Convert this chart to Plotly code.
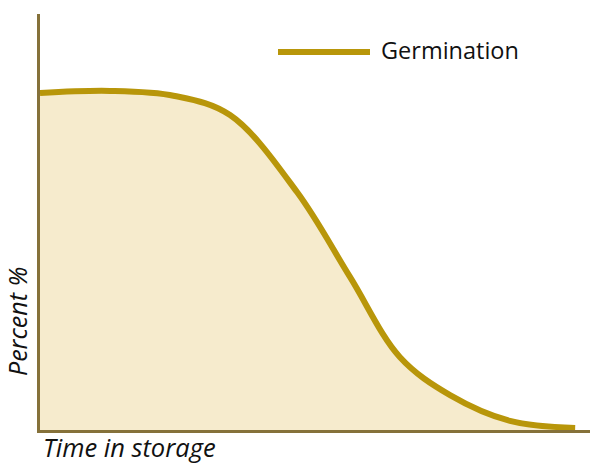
import plotly.graph_objects as go

time_x = [0, 12.73, 24.5, 34.55, 46.73, 56.36, 65.45, 74.55, 85.45, 97.3]
germination = [81.0, 81.5, 80.3, 75.7, 57.2, 36.8, 17.5, 8.4, 2.2, 0.5]
series_name = "Germination"
x_title = "Time in storage"
y_title = "Percent %"

line_color = "#B8960A"
fill_color = "#F6EBCD"
axis_color = "#85713A"
font_family = "Open Sans"

fig = go.Figure()
fig.add_trace(go.Scatter(
    x=time_x, y=germination, mode="lines",
    line=dict(color=line_color, width=6, shape="spline", smoothing=1.0),
    fill="tozeroy", fillcolor=fill_color, name=series_name, showlegend=False,
))

fig.update_layout(
    width=590, height=465,
    margin=dict(l=40, r=0, t=14, b=35),
    paper_bgcolor="white", plot_bgcolor="white",
    font=dict(family=font_family, color="#111111"),
    xaxis=dict(range=[0, 100], showline=True, linecolor=axis_color, linewidth=2.5,
               showgrid=False, zeroline=False, showticklabels=False, ticks=""),
    yaxis=dict(range=[0, 100], showline=True, linecolor=axis_color, linewidth=2.5,
               showgrid=False, zeroline=False, showticklabels=False, ticks=""),
    shapes=[dict(type="line", xref="paper", yref="paper",
                 x0=(278 - 40) / 550, x1=(370 - 40) / 550,
                 y0=(430 - 52) / 416, y1=(430 - 52) / 416,
                 line=dict(color=line_color, width=6))],
    annotations=[
        dict(text=series_name, xref="paper", yref="paper",
             x=(379 - 40) / 550, y=(430 - 50) / 416, xanchor="left", yanchor="middle",
             showarrow=False, font=dict(size=23.5, family=font_family, color="#111111")),
        dict(text="<i>" + x_title + "</i>", xref="paper", yref="paper",
             x=(41 - 40) / 550, y=(430 - 447) / 416, xanchor="left", yanchor="middle",
             showarrow=False, font=dict(size=25.5, family=font_family, color="#111111")),
        dict(text="<i>" + y_title + "</i>", xref="paper", yref="paper",
             x=(17 - 40) / 550, y=(430 - 322) / 416, xanchor="center", yanchor="middle",
             textangle=-90, showarrow=False,
             font=dict(size=25, family=font_family, color="#111111")),
    ],
)

fig.write_html("out.html", config={"displayModeBar": False},
               post_script="document.body.style.margin='0';document.body.style.overflow='hidden';")
